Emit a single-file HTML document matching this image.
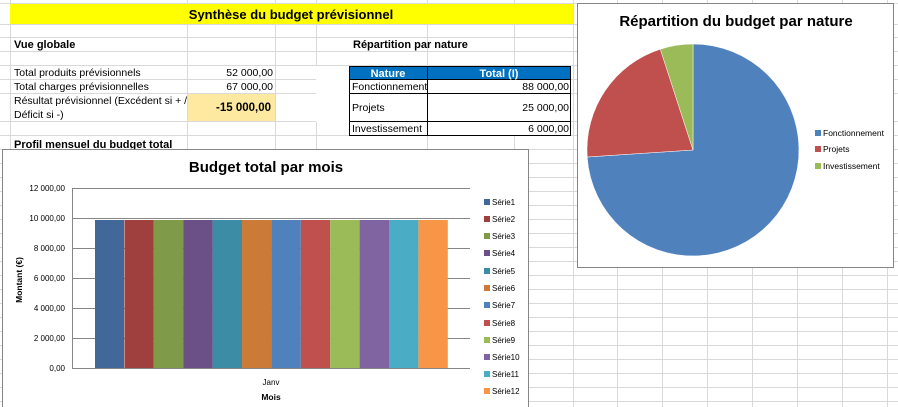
<!DOCTYPE html>
<html><head><meta charset="utf-8"><style>
html,body{margin:0;padding:0;background:#fff;}
svg{display:block;font-family:"Liberation Sans",sans-serif;}
</style></head><body>
<svg width="898" height="407" viewBox="0 0 898 407" xmlns="http://www.w3.org/2000/svg">
<rect width="898" height="407" fill="#fff"/>
<!-- grid -->
<g stroke="#d9d9d9" stroke-width="1">
<line x1="0" y1="3.5" x2="898" y2="3.5"/>
<line x1="0" y1="24.5" x2="898" y2="24.5"/>
<line x1="0" y1="37.5" x2="898" y2="37.5"/>
<line x1="0" y1="51.5" x2="898" y2="51.5"/>
<line x1="0" y1="65.5" x2="898" y2="65.5"/>
<line x1="0" y1="79.5" x2="898" y2="79.5"/>
<line x1="0" y1="93.5" x2="898" y2="93.5"/>
<line x1="0" y1="121.5" x2="898" y2="121.5"/>
<line x1="0" y1="135.5" x2="898" y2="135.5"/>
<line x1="0" y1="149.5" x2="898" y2="149.5"/>
<line x1="0" y1="163.5" x2="898" y2="163.5"/>
<line x1="0" y1="177.5" x2="898" y2="177.5"/>
<line x1="0" y1="191.5" x2="898" y2="191.5"/>
<line x1="0" y1="205.5" x2="898" y2="205.5"/>
<line x1="0" y1="219.5" x2="898" y2="219.5"/>
<line x1="0" y1="233.5" x2="898" y2="233.5"/>
<line x1="0" y1="247.5" x2="898" y2="247.5"/>
<line x1="0" y1="261.5" x2="898" y2="261.5"/>
<line x1="0" y1="275.5" x2="898" y2="275.5"/>
<line x1="0" y1="289.5" x2="898" y2="289.5"/>
<line x1="0" y1="303.5" x2="898" y2="303.5"/>
<line x1="0" y1="317.5" x2="898" y2="317.5"/>
<line x1="0" y1="331.5" x2="898" y2="331.5"/>
<line x1="0" y1="345.5" x2="898" y2="345.5"/>
<line x1="0" y1="359.5" x2="898" y2="359.5"/>
<line x1="0" y1="373.5" x2="898" y2="373.5"/>
<line x1="0" y1="387.5" x2="898" y2="387.5"/>
<line x1="0" y1="401.5" x2="898" y2="401.5"/>
<line x1="10.5" y1="0" x2="10.5" y2="407"/>
<line x1="187.5" y1="0" x2="187.5" y2="407"/>
<line x1="275.5" y1="0" x2="275.5" y2="407"/>
<line x1="316.5" y1="0" x2="316.5" y2="407"/>
<line x1="427.5" y1="0" x2="427.5" y2="407"/>
<line x1="514.5" y1="0" x2="514.5" y2="407"/>
<line x1="573.5" y1="0" x2="573.5" y2="407"/>
<line x1="617.5" y1="0" x2="617.5" y2="407"/>
<line x1="662.5" y1="0" x2="662.5" y2="407"/>
<line x1="707.5" y1="0" x2="707.5" y2="407"/>
<line x1="752.5" y1="0" x2="752.5" y2="407"/>
<line x1="797.5" y1="0" x2="797.5" y2="407"/>
<line x1="842.5" y1="0" x2="842.5" y2="407"/>
<line x1="887.5" y1="0" x2="887.5" y2="407"/>
</g>
<!-- title band -->
<rect x="10" y="4" width="563" height="20" fill="#ffff00"/>
<text x="291" y="19" font-size="13" font-weight="bold" text-anchor="middle" fill="#000">Synthèse du budget prévisionnel</text>
<text x="14" y="48" font-size="11" font-weight="bold">Vue globale</text>
<text x="353" y="48" font-size="11" font-weight="bold">Répartition par nature</text>
<g font-size="10.5">
<text x="14" y="76">Total produits prévisionnels</text>
<text x="273" y="76" text-anchor="end">52 000,00</text>
<text x="14" y="90">Total charges prévisionnelles</text>
<text x="273" y="90" text-anchor="end">67 000,00</text>
<text x="14" y="104">Résultat prévisionnel (Excédent si + /</text>
<text x="14" y="118">Déficit si -)</text>
</g>
<rect x="188" y="94" width="87" height="27" fill="#ffe699"/>
<rect x="188" y="94" width="87" height="27" fill="#fde9a0"/>
<text x="271" y="111" font-size="11.5" font-weight="bold" text-anchor="end">-15 000,00</text>
<text x="14" y="148" font-size="11" font-weight="bold">Profil mensuel du budget total</text>
<!-- table -->
<rect x="316" y="66" width="111" height="56" fill="#fff"/>
<rect x="427" y="66" width="87" height="56" fill="#fff"/>
<rect x="349" y="66" width="222" height="14" fill="#0070c0"/>
<rect x="349" y="80" width="222" height="56" fill="#fff"/>
<g stroke="#000" stroke-width="1" fill="none">
<rect x="349.5" y="66.5" width="221" height="69"/>
<line x1="349" y1="79.5" x2="571" y2="79.5"/>
<line x1="349" y1="93.5" x2="571" y2="93.5"/>
<line x1="349" y1="121.5" x2="571" y2="121.5"/>
<line x1="427.5" y1="66" x2="427.5" y2="136"/>
</g>
<text x="388" y="77" font-size="11" font-weight="bold" fill="#fff" text-anchor="middle">Nature</text>
<text x="499" y="77" font-size="11" font-weight="bold" fill="#fff" text-anchor="middle">Total (I)</text>
<g font-size="10.5">
<text x="352" y="90">Fonctionnement</text>
<text x="569" y="90" text-anchor="end">88 000,00</text>
<text x="352" y="111">Projets</text>
<text x="569" y="111" text-anchor="end">25 000,00</text>
<text x="352" y="132">Investissement</text>
<text x="569" y="132" text-anchor="end">6 000,00</text>
</g>
<!-- pie chart -->
<rect x="577.5" y="3.5" width="316" height="264" fill="#fff" stroke="#868686"/>
<text x="736" y="26" font-size="15" font-weight="bold" text-anchor="middle">Répartition du budget par nature</text>
<path d="M693,150 L693,44 A106,106 0 1 1 587.2,157 Z" fill="#4f81bd" stroke="#fff" stroke-width="0.5"/>
<path d="M693,150 L587.2,157 A106,106 0 0 1 660.3,49.2 Z" fill="#c0504d" stroke="#fff" stroke-width="0.5"/>
<path d="M693,150 L660.3,49.2 A106,106 0 0 1 693,44 Z" fill="#9bbb59" stroke="#fff" stroke-width="0.5"/>
<g font-size="8.5">
<rect x="815" y="130" width="6" height="6" fill="#4f81bd"/><text x="823" y="136">Fonctionnement</text>
<rect x="815" y="146" width="6" height="6" fill="#c0504d"/><text x="823" y="152">Projets</text>
<rect x="815" y="163" width="6" height="6" fill="#9bbb59"/><text x="823" y="169">Investissement</text>
</g>
<!-- bar chart -->
<rect x="2.5" y="149.5" width="526" height="262" fill="#fff" stroke="#868686"/>
<text x="266" y="172" font-size="15" font-weight="bold" text-anchor="middle">Budget total par mois</text>
<g stroke="#868686" stroke-width="1">
<line x1="72" y1="188.5" x2="470" y2="188.5"/>
<line x1="72" y1="218.5" x2="470" y2="218.5"/>
<line x1="72" y1="248.5" x2="470" y2="248.5"/>
<line x1="72" y1="278.5" x2="470" y2="278.5"/>
<line x1="72" y1="308.5" x2="470" y2="308.5"/>
<line x1="72" y1="338.5" x2="470" y2="338.5"/>
<line x1="72" y1="368.5" x2="470" y2="368.5"/>
<line x1="72.5" y1="188" x2="72.5" y2="369"/>
</g>
<g>
<rect x="95" y="220" width="29" height="148" fill="#426899"/>
<rect x="124.4" y="220" width="29.4" height="148" fill="#a0403e"/>
<rect x="153.8" y="220" width="29.4" height="148" fill="#7f9a48"/>
<rect x="183.2" y="220" width="29.4" height="148" fill="#6a5084"/>
<rect x="212.6" y="220" width="29.4" height="148" fill="#3b8ca4"/>
<rect x="242" y="220" width="29.4" height="148" fill="#cc7a38"/>
<rect x="271.4" y="220" width="29.4" height="148" fill="#4f81bd"/>
<rect x="300.8" y="220" width="29.4" height="148" fill="#c0504d"/>
<rect x="330.2" y="220" width="29.4" height="148" fill="#9bbb59"/>
<rect x="359.6" y="220" width="29.4" height="148" fill="#8064a2"/>
<rect x="389" y="220" width="29.4" height="148" fill="#4bacc6"/>
<rect x="418.4" y="220" width="29.4" height="148" fill="#f79646"/>
</g>
<g font-size="8" text-anchor="end">
<text x="65" y="191">12 000,00</text>
<text x="65" y="221">10 000,00</text>
<text x="65" y="251">8 000,00</text>
<text x="65" y="281">6 000,00</text>
<text x="65" y="311">4 000,00</text>
<text x="65" y="341">2 000,00</text>
<text x="65" y="371">0,00</text>
</g>
<text x="271" y="385" font-size="8" text-anchor="middle">Janv</text>
<text x="271" y="400" font-size="8.5" font-weight="bold" text-anchor="middle">Mois</text>
<text transform="translate(22,280) rotate(-90)" font-size="8.5" font-weight="bold" text-anchor="middle">Montant (€)</text>
<g font-size="8">
<rect x="484" y="199" width="6" height="6" fill="#426899"/><text x="492" y="205">Série1</text>
<rect x="484" y="216" width="6" height="6" fill="#a0403e"/><text x="492" y="222">Série2</text>
<rect x="484" y="233" width="6" height="6" fill="#7f9a48"/><text x="492" y="239">Série3</text>
<rect x="484" y="250" width="6" height="6" fill="#6a5084"/><text x="492" y="256">Série4</text>
<rect x="484" y="268" width="6" height="6" fill="#3b8ca4"/><text x="492" y="274">Série5</text>
<rect x="484" y="285" width="6" height="6" fill="#cc7a38"/><text x="492" y="291">Série6</text>
<rect x="484" y="302" width="6" height="6" fill="#4f81bd"/><text x="492" y="308">Série7</text>
<rect x="484" y="320" width="6" height="6" fill="#c0504d"/><text x="492" y="326">Série8</text>
<rect x="484" y="337" width="6" height="6" fill="#9bbb59"/><text x="492" y="343">Série9</text>
<rect x="484" y="354" width="6" height="6" fill="#8064a2"/><text x="492" y="360">Série10</text>
<rect x="484" y="371" width="6" height="6" fill="#4bacc6"/><text x="492" y="377">Série11</text>
<rect x="484" y="388" width="6" height="6" fill="#f79646"/><text x="492" y="394">Série12</text>
</g>
</svg>
</body></html>
